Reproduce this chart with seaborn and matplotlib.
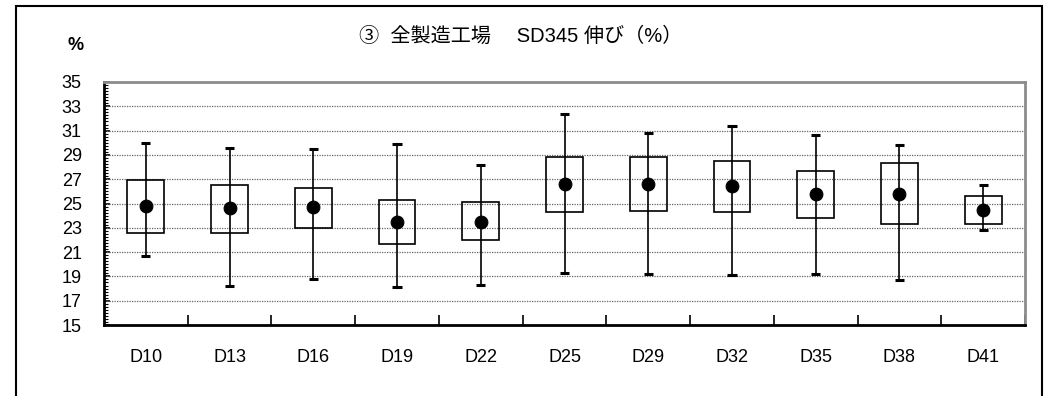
import matplotlib
matplotlib.use("Agg")
import matplotlib.pyplot as plt
import matplotlib.patches as mpatches
import pandas as pd
import seaborn as sns
from matplotlib.ticker import MultipleLocator, FixedLocator

# data
sizes = ["D10", "D13", "D16", "D19", "D22", "D25", "D29", "D32", "D35", "D38", "D41"]
max_vals = [30.0, 29.6, 29.5, 29.9, 28.2, 32.4, 30.8, 31.4, 30.6, 29.8, 26.5]
upper_vals = [26.9, 26.5, 26.3, 25.3, 25.1, 28.8, 28.8, 28.5, 27.7, 28.3, 25.6]
mean_vals = [24.8, 24.6, 24.7, 23.5, 23.5, 26.6, 26.6, 26.4, 25.8, 25.8, 24.5]
lower_vals = [22.6, 22.6, 23.0, 21.7, 22.0, 24.3, 24.4, 24.3, 23.8, 23.3, 23.3]
min_vals = [20.7, 18.2, 18.8, 18.1, 18.3, 19.3, 19.2, 19.1, 19.2, 18.7, 22.8]
y_ticks = [15, 17, 19, 21, 23, 25, 27, 29, 31, 33, 35]

df = pd.DataFrame({"size": sizes, "max": max_vals, "upper": upper_vals,
                   "mean": mean_vals, "lower": lower_vals, "min": min_vals})

sns.set_theme(style="white")
plt.rcParams["font.family"] = ["Liberation Sans", "Noto Sans CJK JP", "DejaVu Sans"]

fig = plt.figure(figsize=(10.46, 3.96), dpi=100)
ax = fig.add_axes([104 / 1046, 71 / 396, 921 / 1046, 243 / 396])

# whiskers + caps
xs = range(len(sizes))
ax.vlines(df["size"], df["min"], df["max"], color="black", lw=1.2, zorder=2)
ax.hlines(df["max"], [i - 0.055 for i in xs], [i + 0.055 for i in xs],
          color="black", lw=2.2, zorder=2)
ax.hlines(df["min"], [i - 0.055 for i in xs], [i + 0.055 for i in xs],
          color="black", lw=2.2, zorder=2)

# boxes
ax.bar(df["size"], df["upper"] - df["lower"], bottom=df["lower"], width=0.44,
       fill=False, edgecolor="black", linewidth=1.2, zorder=3)

# mean dots
sns.scatterplot(data=df, x="size", y="mean", ax=ax, color="black", s=85,
                edgecolor="black", zorder=4, legend=False)

ax.set_xlim(-0.5, len(sizes) - 0.5)
ax.set_ylim(15, 35)
ax.yaxis.set_major_locator(FixedLocator(y_ticks))
ax.yaxis.set_minor_locator(MultipleLocator(0.25))
ax.set_xticks([i + 0.5 for i in xs], minor=True)
ax.set_xticks(list(xs))
ax.set_xticklabels(sizes)
ax.tick_params(axis="x", which="major", length=0, pad=17, labelsize=13,
               labelcolor="black")
ax.tick_params(axis="x", which="minor", direction="in", length=7, width=1.2,
               color="black", bottom=True)
ax.tick_params(axis="y", which="major", direction="in", length=4, width=1.2,
               color="black", pad=16, labelsize=13, left=True, labelcolor="black")
ax.tick_params(axis="y", which="minor", direction="in", length=3, width=0.8,
               color="black", left=True)

for v in y_ticks[1:-1]:
    ax.axhline(v, color="#666666", lw=0.9, ls=(0, (1, 1)), zorder=1)

ax.set_xlabel("")
ax.set_ylabel("")
ax.spines["left"].set_color("black")
ax.spines["left"].set_linewidth(2)
ax.spines["bottom"].set_color("black")
ax.spines["bottom"].set_linewidth(2)
ax.spines["top"].set_color("#8c8c8c")
ax.spines["top"].set_linewidth(2)
ax.spines["right"].set_color("#8c8c8c")
ax.spines["right"].set_linewidth(2)

fig.text(521 / 1046, 1 - 36 / 396, "③  全製造工場　 SD345 伸び（%）", ha="center",
         va="center", fontsize=14.5, color="black")
fig.text(76 / 1046, 1 - 46 / 396, "%", ha="center", va="center", fontsize=13,
         fontweight="bold", color="black")

# outer frame (open at the bottom)
fig.add_artist(mpatches.Rectangle((16 / 1046, -0.2), 1026 / 1046, 1.2 - 6 / 396,
                                  transform=fig.transFigure, fill=False,
                                  edgecolor="black", linewidth=1.5))

fig.savefig("out.png", dpi=100)
